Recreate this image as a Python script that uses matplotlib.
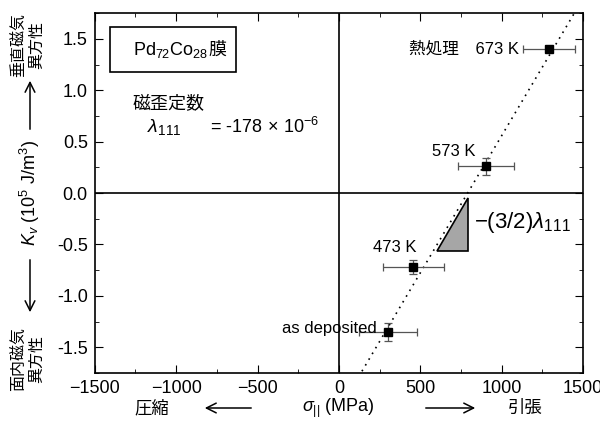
import matplotlib
matplotlib.use("Agg")
import matplotlib.pyplot as plt
import matplotlib.patches as mpatches
from matplotlib.ticker import MultipleLocator

plt.rcParams['font.family'] = ['Liberation Sans', 'Noto Sans CJK JP', 'DejaVu Sans']
plt.rcParams['mathtext.fontset'] = 'custom'
plt.rcParams['mathtext.rm'] = 'Liberation Sans'
plt.rcParams['mathtext.it'] = 'Liberation Sans:italic'

# data
stress = [300, 455, 900, 1290]          # MPa
kv = [-1.35, -0.72, 0.26, 1.40]         # 10^5 J/m^3
stress_err = [178, 187, 172, 157]
kv_err = [0.09, 0.07, 0.08, 0.03]
labels = ['as deposited', '473 K', '573 K', '熱処理　673 K']

# fit line: Kv = -(3/2) lambda111 * (sigma - sigma0)
lam111 = -178e-6
sigma0 = 790
fit_x = [120, 1500]
fit_y = [-1.5 * lam111 * 1e6 * (s - sigma0) / 1e5 for s in fit_x]

# slope triangle
tri_x = [602, 793, 793]
tri_y = [-0.565, -0.565, -0.05]

fig = plt.figure(figsize=(6, 4.34), dpi=100)
ax = fig.add_axes([0.158, 0.1406, 0.814, 0.829])

ax.axhline(0, color='black', lw=1.2)
ax.axvline(0, color='black', lw=1.2)
ax.plot(fit_x, fit_y, color='black', ls=(0, (1, 3)), lw=1.2)
ax.add_patch(mpatches.Polygon(list(zip(tri_x, tri_y)), closed=True,
                              fc='#a6a6a6', ec='black', lw=1.2))
ax.errorbar(stress, kv, xerr=stress_err, yerr=kv_err, fmt='s', color='black',
            ms=6, ecolor='#555555', elinewidth=0.9, capsize=3, capthick=0.9)

ax.text(234, -1.32, labels[0], ha='right', va='center', fontsize=12)
ax.text(344, -0.53, labels[1], ha='center', va='center', fontsize=12)
ax.text(707, 0.40, labels[2], ha='center', va='center', fontsize=12)
ax.text(1106, 1.40, labels[3], ha='right', va='center', fontsize=12)
ax.text(830, -0.29, r'$-(3/2)\lambda_{111}$', ha='left', va='center', fontsize=16)

ax.add_patch(mpatches.Rectangle((0.031, 0.836), 0.258, 0.125, transform=ax.transAxes,
                                fill=False, ec='black', lw=1.2))
ax.text(0.232, 0.898, 'Pd$_{72}$Co$_{28}$', transform=ax.transAxes,
        ha='right', va='center', fontsize=13)
ax.text(0.232, 0.898, '膜', transform=ax.transAxes,
        ha='left', va='center', fontsize=13)
ax.text(-1050, 0.86, '磁歪定数', ha='center', va='center', fontsize=13)
ax.text(-1075, 0.64, r'$\lambda_{111}$', ha='center', va='center', fontsize=14)
ax.text(-790, 0.64, r'= -178$\,\times\,$10$^{-6}$', ha='left', va='center', fontsize=13)

ax.set_xlim(-1500, 1500)
ax.set_ylim(-1.75, 1.75)
ax.xaxis.set_major_locator(MultipleLocator(500))
ax.xaxis.set_minor_locator(MultipleLocator(250))
ax.yaxis.set_major_locator(MultipleLocator(0.5))
ax.yaxis.set_minor_locator(MultipleLocator(0.25))
ax.yaxis.set_major_formatter(matplotlib.ticker.FormatStrFormatter('%.1f'))
ax.tick_params(which='both', direction='in', top=True, right=True, labelsize=13)
ax.tick_params(which='major', length=6, pad=5)
ax.tick_params(which='minor', length=3)
for s in ax.spines.values():
    s.set_linewidth(1.2)

# left side labels and arrows
fig.text(30 / 600, 1 - 193 / 434, r'$K_{v}$ (10$^5$ J/m$^3$)', rotation=90,
         ha='center', va='center', fontsize=13)
fig.text(28 / 600, 1 - 45 / 434, '垂直磁気\n異方性', rotation=90, ha='center', va='center',
         multialignment='center', fontsize=11.5, linespacing=1.15)
fig.text(28 / 600, 1 - 359 / 434, '面内磁気\n異方性', rotation=90, ha='center', va='center',
         multialignment='center', fontsize=11.5, linespacing=1.15)
arrow = dict(arrowstyle='->, head_width=0.35, head_length=0.7', color='black', lw=1.1)
ax.annotate('', xy=(30 / 600, 1 - 78 / 434), xytext=(30 / 600, 1 - 132 / 434),
            xycoords='figure fraction', textcoords='figure fraction', arrowprops=arrow)
ax.annotate('', xy=(30 / 600, 1 - 315 / 434), xytext=(30 / 600, 1 - 257 / 434),
            xycoords='figure fraction', textcoords='figure fraction', arrowprops=arrow)

# bottom labels and arrows
fig.text(338 / 600, 1 - 408 / 434, r'$\sigma_{||}$ (MPa)', ha='center', va='center', fontsize=13)
fig.text(152 / 600, 1 - 408 / 434, '圧縮', ha='center', va='center', fontsize=12.5)
fig.text(525 / 600, 1 - 408 / 434, '引張', ha='center', va='center', fontsize=12.5)
ax.annotate('', xy=(202 / 600, 1 - 408 / 434), xytext=(254 / 600, 1 - 408 / 434),
            xycoords='figure fraction', textcoords='figure fraction', arrowprops=arrow)
ax.annotate('', xy=(478 / 600, 1 - 408 / 434), xytext=(423 / 600, 1 - 408 / 434),
            xycoords='figure fraction', textcoords='figure fraction', arrowprops=arrow)

fig.savefig('out.png', dpi=100)
